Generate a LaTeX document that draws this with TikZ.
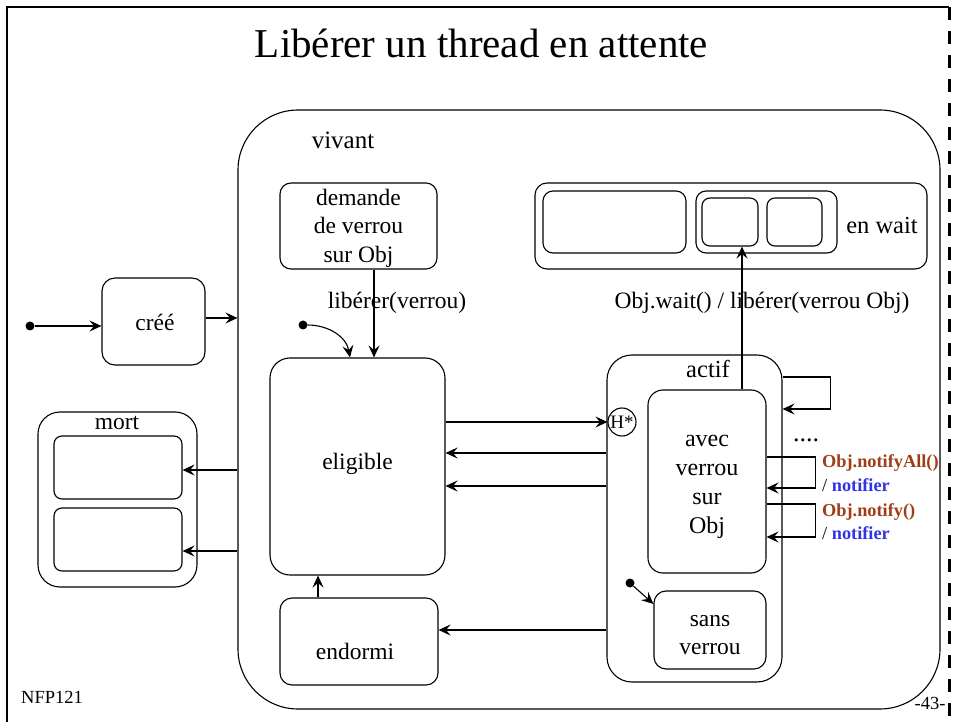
\documentclass[tikz,border=0pt]{standalone}
\usepackage{fontspec}
\setmainfont{Liberation Serif}
\usetikzlibrary{arrows.meta}
\definecolor{notebrown}{RGB}{158,62,22}
\definecolor{noteblue}{RGB}{51,51,230}
\begin{document}
\begin{tikzpicture}[x=1pt,y=-1pt,
  box/.style={draw, line width=1.1pt, rounded corners=#1, inner sep=0pt},
  box/.default=10pt,
  txt/.style={inner sep=0pt, align=center, font=\fontsize{23.5}{28.5}\selectfont},
  small/.style={inner sep=0pt, font=\fontsize{18.5}{20}\selectfont},
  note/.style={inner sep=0pt, anchor=west, font=\fontsize{18.3}{20}\selectfont},
  arr/.style={line width=1.1pt, -{Stealth[length=12pt,width=11pt,inset=4.5pt]}},
  dot/.style={circle, fill=black, inner sep=0pt, minimum size=9pt}]
\useasboundingbox (0,0) rectangle (954,722);
% frame
\draw[line width=2.6pt] (7,722) -- (7,7) -- (949,7);
\draw[line width=3pt, dash pattern=on 13pt off 11pt] (949,7) -- (949,722);
% title
\node[inner sep=0pt, anchor=base, font=\fontsize{41}{48}\selectfont] (title) at (481.5,58) {Libérer un thread en attente};
% boxes
\node[box=60pt, minimum width=702pt, minimum height=599pt] (viv) at (589,409.5) {};
\node[txt, font=\fontsize{25}{30}\selectfont] (vivlbl) at (343,140) {vivant};
\node[box=11pt, minimum width=157pt, minimum height=86pt] (dem) at (358.5,226) {};
\node[txt] (demlbl) at (358.5,228) {demande\\de verrou\\sur Obj};
\node[box=20pt, minimum width=175pt, minimum height=217pt] (elig) at (357.5,466.5) {};
\node[txt] (eliglbl) at (357.5,464) {eligible};
\node[box=12pt, minimum width=158pt, minimum height=87pt] (endo) at (359,641.5) {};
\node[txt] (endolbl) at (355,651) {endormi};
\node[box=13pt, minimum width=103pt, minimum height=87pt] (cree) at (153.5,321.5) {};
\node[txt] (creelbl) at (155,322) {créé};
\node[box=22pt, minimum width=159pt, minimum height=175pt] (mort) at (117.5,499.5) {};
\node[txt] (mortlbl) at (117,423) {mort};
\node[box=8pt, minimum width=128pt, minimum height=63pt] (mort1) at (118,467.5) {};
\node[box=8pt, minimum width=128pt, minimum height=63pt] (mort2) at (118,539.5) {};
\node[box=12pt, minimum width=392pt, minimum height=86pt] (wait) at (731,226) {};
\node[txt, font=\fontsize{24.5}{30}\selectfont] (waitlbl) at (882,226) {en wait};
\node[box=10pt, minimum width=143pt, minimum height=62pt] (w1) at (614.5,222) {};
\node[box=10pt, minimum width=141pt, minimum height=62pt] (w2) at (766.5,222) {};
\node[box=8pt, minimum width=56pt, minimum height=48pt] (w2a) at (730,222) {};
\node[box=8pt, minimum width=55pt, minimum height=48pt] (w2b) at (794.5,222) {};
\node[box=25pt, minimum width=175pt, minimum height=327pt] (actif) at (694.5,518.5) {};
\node[txt, font=\fontsize{24.5}{30}\selectfont] (actiflbl) at (708,369) {actif};
\node[box=15pt, minimum width=118pt, minimum height=183pt] (avec) at (707,481.5) {};
\node[txt, font=\fontsize{24}{29}\selectfont] (aveclbl) at (707,487) {avec\\verrou\\sur\\Obj};
\node[box=12pt, minimum width=112pt, minimum height=78pt] (sans) at (710,630) {};
\node[txt] (sanslbl) at (710,635) {sans\\verrou};
\node[draw, line width=1.1pt, circle, minimum size=28pt, inner sep=0pt, font=\fontsize{19}{20}\selectfont] (H) at (622,422) {H*};
% initial dots
\node[dot] (i1) at (30,326) {};
\node[dot] (i2) at (303,325) {};
\node[dot] (i3) at (630,583) {};
% transitions
\draw[arr] (i1) -- (i1 -| cree.west);
\draw[arr] ([yshift=3.5pt]cree.east) -- ([yshift=3.5pt]cree.east -| viv.west);
\draw[arr] ([yshift=-2.5pt]mort1.east -| viv.west) -- ([yshift=-2.5pt]mort1.east);
\draw[arr] ([yshift=-11.5pt]mort2.east -| viv.west) -- ([yshift=-11.5pt]mort2.east);
\draw[arr] (i2) to[out=0, in=100] ([xshift=-7.5pt]elig.north);
\draw[arr] ([xshift=15.5pt]dem.south) -- ([xshift=15.5pt]dem.south |- elig.north);
\node[txt] (liblbl) at (397,303) {libérer(verrou)};
\draw[arr] ([xshift=-41pt]endo.north) -- ([xshift=-41pt]endo.north |- elig.south);
\draw[arr] (H.west -| elig.east) -- (H.west);
\draw[arr] ([yshift=65.5pt]actif.west) -- ([yshift=65.5pt]actif.west -| elig.east);
\draw[arr] ([yshift=32.5pt]actif.west) -- ([yshift=32.5pt]actif.west -| elig.east);
\draw[arr] ([yshift=-111.5pt]actif.west) -- ([yshift=-111.5pt]actif.west -| endo.east);
\draw[arr] ([xshift=35pt]avec.north) -- ([xshift=35pt]avec.north |- w2a.south);
\node[txt] (waitlab) at (762,303) {Obj.wait() / libérer(verrou Obj)};
\draw[arr] ([yshift=141.5pt]actif.east) -- ++(48,0) |- ([yshift=109.5pt]actif.east);
\draw[arr] ([yshift=24.5pt]avec.east) -- ++(49,0) |- ([yshift=-6.5pt]avec.east);
\draw[arr] ([yshift=-22.5pt]avec.east) -- ++(49,0) |- ([yshift=-55.5pt]avec.east);
\draw[arr] (i3) -- ([yshift=26pt]sans.west);
\node[txt, font=\fontsize{26}{30}\selectfont] (dots) at (806,440) {....};
\node[note] (n1) at (822,463) {\textcolor{notebrown}{\textbf{Obj.notifyAll()}}};
\node[note] (n2) at (822,485) {/ \textcolor{noteblue}{\textbf{notifier}}};
\node[note] (n3) at (822,512) {\textcolor{notebrown}{\textbf{Obj.notify()}}};
\node[note] (n4) at (822,533) {/ \textcolor{noteblue}{\textbf{notifier}}};
% footer
\node[small] (nfp) at (52,697) {NFP121};
\node[small] (page) at (930,703) {-43-};
\end{tikzpicture}
\end{document}
